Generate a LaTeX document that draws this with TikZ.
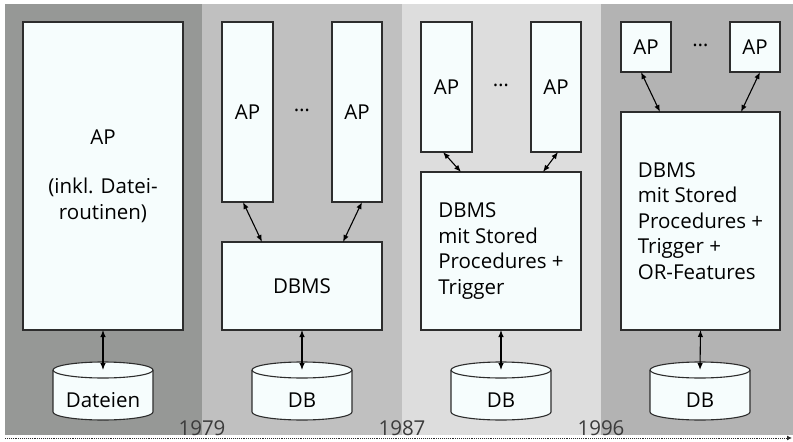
\documentclass[tikz,border=0pt]{standalone}
\usepackage{fontspec}
\setmainfont{Open Sans}
\usetikzlibrary{arrows.meta}
\definecolor{pone}{RGB}{150,152,150}
\definecolor{ptwo}{RGB}{192,192,192}
\definecolor{pthree}{RGB}{221,221,221}
\definecolor{pfour}{RGB}{179,179,179}
\definecolor{boxfill}{RGB}{246,253,253}
\definecolor{edge}{RGB}{45,45,45}
\definecolor{yeartext}{RGB}{60,60,60}
\tikzset{
  panel/.style={draw=none, inner sep=0pt, outer sep=0pt, anchor=north west},
  box/.style={draw=edge, line width=1.1pt, fill=boxfill, inner sep=0pt, outer sep=0pt,
    font=\fontsize{20.5}{25.5}\selectfont},
  txt/.style={font=\fontsize{20.5}{25.5}\selectfont, inner sep=0pt},
  year/.style={font=\fontsize{20.5}{24}\selectfont, text=yeartext, inner sep=0pt, anchor=base},
  link/.style={line width=1.1pt, draw=black, {Latex[length=7pt,width=5.5pt]}-{Latex[length=7pt,width=5.5pt]}},
  drum/.style={draw=edge, line width=1.1pt, fill=boxfill},
}
\begin{document}
\begin{tikzpicture}[x=1pt,y=-1pt]
\useasboundingbox (0,0) rectangle (793,442);
% panels
\node[panel, fill=pone, minimum width=197, minimum height=431] (p1) at (5,4) {};
\node[panel, fill=ptwo, minimum width=200, minimum height=431] (p2) at (202,4) {};
\node[panel, fill=pthree, minimum width=199, minimum height=431] (p3) at (402,4) {};
\node[panel, fill=pfour, minimum width=192, minimum height=431] (p4) at (601,4) {};
% panel 1
\node[box, minimum width=160, minimum height=308, align=center] (ap1) at (103,176)
  {\raisebox{0pt}[0pt][0pt]{}AP\\[24pt](inkl. Datei-\\routinen)};
% panel 2
\node[box, minimum width=51, minimum height=180] (ap2a) at (247.5,112) {AP};
\node[box, minimum width=50, minimum height=180] (ap2b) at (357,112) {AP};
\node[txt] (dots2) at (302,112) {\raisebox{0.25ex}{\dots}};
\node[box, minimum width=160, minimum height=88] (db2) at (302,286) {DBMS};
% panel 3
\node[box, minimum width=51, minimum height=130] (ap3a) at (446.5,87) {AP};
\node[box, minimum width=50, minimum height=130] (ap3b) at (556,87) {AP};
\node[txt] (dots3) at (501,87) {\raisebox{0.25ex}{\dots}};
\node[box, minimum width=160, minimum height=158, align=left] (db3) at (501,251)
  {DBMS\\mit Stored\\Procedures +\\Trigger};
% panel 4
\node[box, minimum width=50, minimum height=50] (ap4a) at (646,47) {AP};
\node[box, minimum width=50, minimum height=50] (ap4b) at (755,47) {AP};
\node[txt] (dots4) at (700.5,47) {\raisebox{0.25ex}{\dots}};
\node[box, minimum width=159, minimum height=218, align=left] (db4) at (700.5,221)
  {DBMS\\mit Stored\\Procedures +\\Trigger +\\OR-Features};
% cylinders
\foreach \cx/\nm in {103/c1,302/c2,501/c3,700/c4}{
  \path[drum] (\cx-50,370) -- (\cx-50,412)
     arc[start angle=180, end angle=0, x radius=50, y radius=8]
     -- (\cx+50,370)
     arc[start angle=0, end angle=-180, x radius=50, y radius=8] -- cycle;
  \draw[edge, line width=1.1pt] (\cx-50,370)
     arc[start angle=180, end angle=0, x radius=50, y radius=8];
  \coordinate (\nm) at (\cx,370);
}
\node[txt] (t1) at (103,400) {Dateien};
\node[txt] (t2) at (302,400) {DB};
\node[txt] (t3) at (501,400) {DB};
\node[txt] (t4) at (700,400) {DB};
% connectors
\draw[link] (ap1.south) -- (c1);
\draw[link] (db2.south) -- (c2);
\draw[link] (db3.south) -- (c3);
\draw[link] (db4.south) -- (c4);
\coordinate (s2a) at (243,202);
\coordinate (s2b) at (362,202);
\coordinate (s3a) at (443,152);
\coordinate (s3b) at (558,152);
\coordinate (s4a) at (641,72);
\coordinate (s4b) at (760,72);
\coordinate (e2a) at (262,242);
\coordinate (e2b) at (343,242);
\coordinate (e3a) at (461,172);
\coordinate (e3b) at (543,172);
\coordinate (e4a) at (660,112);
\coordinate (e4b) at (741,112);
\draw[link] (s2a) -- (e2a);
\draw[link] (s2b) -- (e2b);
\draw[link] (s3a) -- (e3a);
\draw[link] (s3b) -- (e3b);
\draw[link] (s4a) -- (e4a);
\draw[link] (s4b) -- (e4b);
% years
\node[year] (y1) at (202,435) {1979};
\node[year] (y2) at (402,435) {1987};
\node[year] (y3) at (601,435) {1996};
% axis
\coordinate (axl) at (5,438);
\coordinate (axr) at (792,438);
\draw[densely dotted, line width=0.9pt, draw=edge, -{Latex[length=5pt,width=5pt]}] (axl) -- (axr);
\end{tikzpicture}
\end{document}
